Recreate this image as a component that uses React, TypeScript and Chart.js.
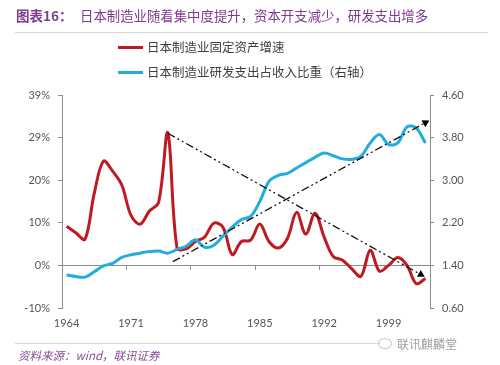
import React, { useEffect, useRef } from "react";
import { Chart, registerables } from "chart.js";

Chart.register(...registerables);

const years = [
  "1964", "1965", "1966", "1967", "1968", "1969", "1970", "1971", "1972", "1973",
  "1974", "1975", "1976", "1977", "1978", "1979", "1980", "1981", "1982", "1983",
  "1984", "1985", "1986", "1987", "1988", "1989", "1990", "1991", "1992", "1993",
  "1994", "1995", "1996", "1997", "1998", "1999", "2000", "2001", "2002", "2003",
];

// 日本制造业固定资产增速 (%)
const fixedAssetGrowth = [
  9.0, 7.5, 6.0, 16.5, 24.0, 21.7, 18.5, 11.5, 9.5, 12.5,
  14.5, 30.5, 4.0, 3.8, 5.5, 6.5, 9.7, 8.8, 2.5, 5.5,
  5.8, 9.5, 5.5, 4.0, 6.2, 12.2, 7.2, 12.0, 6.5, 2.0,
  1.2, -0.8, -2.5, 3.5, -1.3, 0.0, 1.8, 0.0, -4.2, -3.0,
];

// 日本制造业研发支出占收入比重（右轴）
const rdShare = [
  1.22, 1.19, 1.18, 1.28, 1.39, 1.44, 1.55, 1.60, 1.63, 1.66,
  1.67, 1.63, 1.70, 1.76, 1.88, 1.74, 1.78, 1.95, 2.12, 2.26,
  2.32, 2.60, 2.98, 3.09, 3.13, 3.23, 3.33, 3.43, 3.51, 3.46,
  3.40, 3.39, 3.45, 3.70, 3.86, 3.67, 3.70, 4.00, 3.98, 3.70,
];

// trend arrows (year, value)
const trendDownYears = [1975, 2002.5];
const trendDownValues = [30.4, -2.1];
const trendUpYears = [1975.55, 2003.0];
const trendUpValues = [1.47, 4.08];

const leftTicks = [-9.8, 0, 9.8, 19.6, 29.4, 39.2];
const leftTickLabels = ["-10%", "0%", "10%", "20%", "29%", "39%"];
const rightTicks = [0.6, 1.4, 2.2, 3.0, 3.8, 4.6];
const rightTickLabels = ["0.60", "1.40", "2.20", "3.00", "3.80", "4.60"];
const xLabelEvery = 7;

const legendLabels = ["日本制造业固定资产增速", "日本制造业研发支出占收入比重（右轴）"];

const RED = "#BE1A1F";
const BLUE = "#22ADDC";
const AXIS = "#8C8C8C";
const TICK = "#555555";
const PURPLE = "#7E3C8E";

export default function App() {
  const canvasRef = useRef<HTMLCanvasElement | null>(null);

  useEffect(() => {
    const canvas = canvasRef.current;
    if (!canvas) return;
    const tickFont = { family: "Lato, 'Open Sans', sans-serif", size: 11 };
    const chart = new Chart(canvas, {
      type: "line",
      data: {
        labels: years,
        datasets: [
          {
            label: "trendDown",
            data: trendDownYears.map((x, i) => ({ x, y: trendDownValues[i] })),
            xAxisID: "xl",
            yAxisID: "y",
            borderColor: "#111111",
            borderWidth: 1.3,
            borderDash: [8, 3, 2, 3, 2, 3],
            pointStyle: "triangle",
            pointRadius: [0, 4.5],
            pointRotation: [0, 119],
            pointBackgroundColor: "#000000",
            pointBorderColor: "#000000",
            pointBorderWidth: 0,
            tension: 0,
          } as any,
          {
            label: "trendUp",
            data: trendUpYears.map((x, i) => ({ x, y: trendUpValues[i] })),
            xAxisID: "xl",
            yAxisID: "y2",
            borderColor: "#111111",
            borderWidth: 1.3,
            borderDash: [8, 3, 2, 3, 2, 3],
            pointStyle: "triangle",
            pointRadius: [0, 4.5],
            pointRotation: [0, 61],
            pointBackgroundColor: "#000000",
            pointBorderColor: "#000000",
            pointBorderWidth: 0,
            tension: 0,
          } as any,
          {
            label: legendLabels[1],
            data: rdShare,
            xAxisID: "x",
            yAxisID: "y2",
            borderColor: BLUE,
            borderWidth: 3,
            pointRadius: 0,
            tension: 0.35,
          },
          {
            label: legendLabels[0],
            data: fixedAssetGrowth,
            xAxisID: "x",
            yAxisID: "y",
            borderColor: RED,
            borderWidth: 3,
            pointRadius: 0,
            tension: 0.35,
          },
        ],
      },
      options: {
        animation: false,
        responsive: false,
        maintainAspectRatio: false,
        layout: { padding: { top: 95, left: 0, right: 0, bottom: 0 } },
        plugins: { legend: { display: false }, tooltip: { enabled: false } },
        scales: {
          x: {
            axis: "x",
            type: "category",
            position: "bottom",
            offset: true,
            grid: { display: false, drawTicks: false },
            border: { display: false },
            ticks: {
              autoSkip: false,
              maxRotation: 0,
              minRotation: 0,
              padding: 9,
              color: TICK,
              font: tickFont,
              callback: (_v: any, i: number) => (i % xLabelEvery === 0 ? years[i] : ""),
            },
            afterFit: (s: any) => {
              s.height = 57;
            },
          },
          xz: {
            axis: "x",
            type: "category",
            position: { y: 0 },
            offset: true,
            grid: {
              offset: true,
              drawOnChartArea: false,
              drawTicks: true,
              tickLength: 4,
              lineWidth: 1,
              color: (c: any) =>
                c.index % xLabelEvery === 0 && c.index > 0 && c.index < years.length
                  ? AXIS
                  : "rgba(0,0,0,0)",
            },
            border: { display: true, color: AXIS, width: 1 },
            ticks: { display: false },
          } as any,
          xl: {
            axis: "x",
            type: "linear",
            display: false,
            min: Number(years[0]) - 0.5,
            max: Number(years[years.length - 1]) + 0.5,
          },
          y: {
            axis: "y",
            type: "linear",
            position: "left",
            min: leftTicks[0],
            max: leftTicks[leftTicks.length - 1],
            afterBuildTicks: (s: any) => {
              s.ticks = leftTicks.map((v) => ({ value: v }));
            },
            grid: { drawOnChartArea: false, drawTicks: true, tickLength: 4, color: AXIS },
            border: { display: true, color: AXIS },
            ticks: {
              padding: 8,
              color: TICK,
              font: tickFont,
              callback: (_v: any, i: number) => leftTickLabels[i],
            },
            afterFit: (s: any) => {
              s.width = 62;
            },
          },
          y2: {
            axis: "y",
            type: "linear",
            position: "right",
            min: rightTicks[0],
            max: rightTicks[rightTicks.length - 1],
            afterBuildTicks: (s: any) => {
              s.ticks = rightTicks.map((v) => ({ value: v }));
            },
            grid: { drawOnChartArea: false, drawTicks: true, tickLength: 4, color: AXIS },
            border: { display: true, color: AXIS },
            ticks: {
              padding: 8,
              color: TICK,
              font: tickFont,
              callback: (_v: any, i: number) => rightTickLabels[i],
            },
            afterFit: (s: any) => {
              s.width = 70;
            },
          },
        } as any,
      },
    });
    return () => chart.destroy();
  }, []);

  const cjk = "'Noto Sans CJK SC', 'Noto Sans', sans-serif";

  return (
    <div
      style={{
        position: "absolute",
        left: 0,
        top: 0,
        width: 500,
        height: 365,
        background: "#ffffff",
        overflow: "hidden",
        fontFamily: cjk,
      }}
    >
      <canvas
        ref={canvasRef}
        width={500}
        height={365}
        style={{ position: "absolute", left: 0, top: 0, width: 500, height: 365 }}
      />
      {/* title */}
      <div
        style={{
          position: "absolute",
          left: 16,
          top: 5,
          lineHeight: "20px",
          fontSize: 13.5,
          color: PURPLE,
          fontWeight: 700,
          whiteSpace: "nowrap",
        }}
      >
        图表16：
      </div>
      <div
        style={{
          position: "absolute",
          left: 80,
          top: 5,
          lineHeight: "20px",
          fontSize: 13.4,
          color: PURPLE,
          whiteSpace: "nowrap",
        }}
      >
        日本制造业随着集中度提升，资本开支减少，研发支出增多
      </div>
      <div
        style={{
          position: "absolute",
          left: 15,
          top: 32,
          width: 473,
          height: 1,
          background: "#D8D8D8",
        }}
      />
      {/* legend */}
      <div style={{ position: "absolute", left: 118, top: 46, width: 25, height: 3, background: RED }} />
      <div
        style={{
          position: "absolute",
          left: 147,
          top: 39,
          lineHeight: "16px",
          fontSize: 12.5,
          color: "#404040",
          whiteSpace: "nowrap",
        }}
      >
        {legendLabels[0]}
      </div>
      <div style={{ position: "absolute", left: 118, top: 71, width: 25, height: 3, background: BLUE }} />
      <div
        style={{
          position: "absolute",
          left: 147,
          top: 64,
          lineHeight: "16px",
          fontSize: 12.5,
          color: "#404040",
          whiteSpace: "nowrap",
        }}
      >
        {legendLabels[1]}
      </div>
      {/* footer */}
      <div
        style={{
          position: "absolute",
          left: 15,
          top: 343,
          width: 365,
          height: 1,
          background: "#D8D8D8",
        }}
      />
      <div
        style={{
          position: "absolute",
          left: 18,
          top: 347,
          lineHeight: "16px",
          fontSize: 11.5,
          color: "#8A4A96",
          fontStyle: "italic",
          whiteSpace: "nowrap",
        }}
      >
        资料来源：wind，联讯证券
      </div>
      <div
        style={{
          position: "absolute",
          left: 378,
          top: 338,
          width: 12,
          height: 9,
          border: "1px solid #C8C8C8",
          borderRadius: "50%",
        }}
      />
      <div
        style={{
          position: "absolute",
          left: 397,
          top: 336,
          lineHeight: "16px",
          fontSize: 12,
          color: "#A0A0A0",
          whiteSpace: "nowrap",
        }}
      >
        联讯麒麟堂
      </div>
    </div>
  );
}
